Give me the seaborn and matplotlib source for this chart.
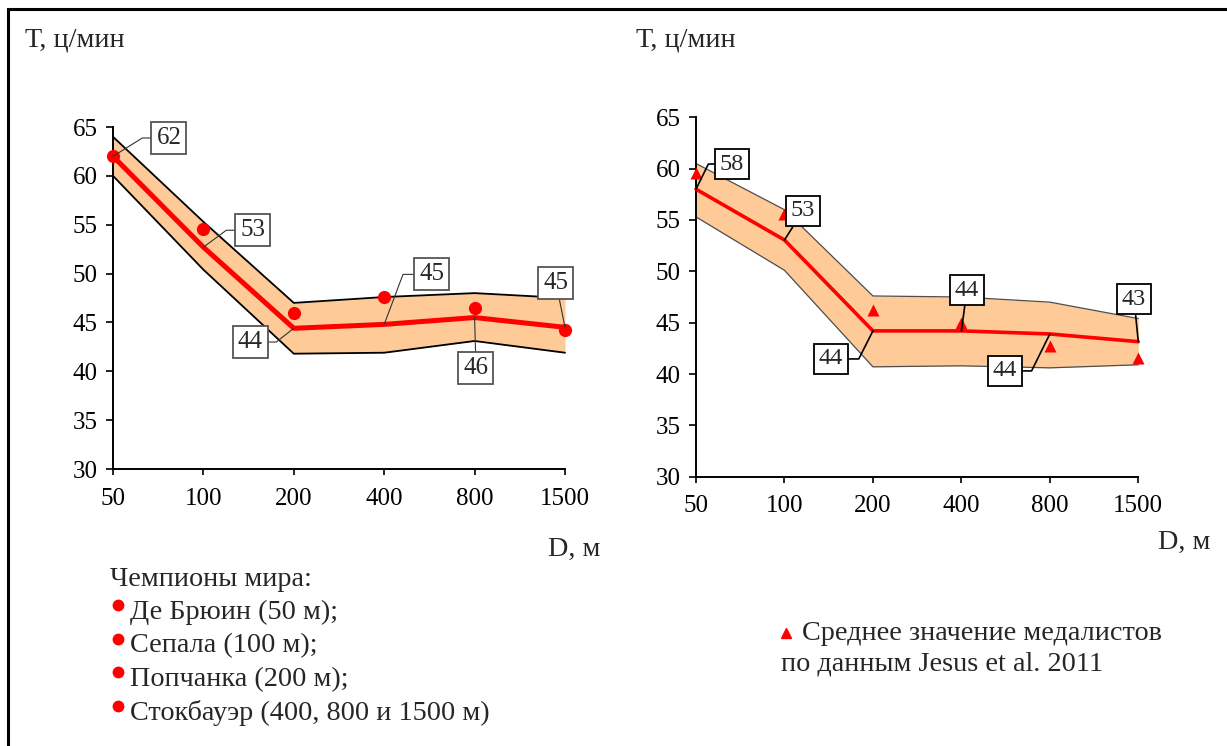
import numpy as np
import pandas as pd
import matplotlib
matplotlib.use("Agg")
import matplotlib.pyplot as plt
from matplotlib.lines import Line2D
import seaborn as sns

# ---------------- data ----------------
distances = ["50", "100", "200", "400", "800", "1500"]

left_upper = [64.0, 55.3, 47.0, 47.6, 48.0, 47.5]
left_lower = [60.0, 50.4, 41.8, 41.9, 43.1, 41.9]
left_mean = [62.0, 52.7, 44.4, 44.8, 45.5, 44.5]
left_champions = [62.0, 54.6, 46.0, 47.6, 46.5, 44.2]
left_labels = ["62", "53", "44", "45", "46", "45"]

right_upper = [60.5, 56.0, 47.6, 47.5, 47.0, 45.4]
right_lower = [55.3, 50.1, 40.7, 40.8, 40.6, 40.9]
right_mean = [58.0, 53.05, 44.2, 44.2, 43.9, 43.15]
right_medalists = [59.6, 55.6, 46.2, 45.0, 42.7, 41.6]
right_labels = ["58", "53", "44", "44", "44", "43"]

y_ticks = [30, 35, 40, 45, 50, 55, 60, 65]

legend_title = "Чемпионы мира:"
legend_items = ["Де Брюин (50 м);", "Сепала (100 м);", "Попчанка (200 м);",
                "Стокбауэр (400, 800 и 1500 м)"]
legend_right = ["Среднее значение медалистов", "по данным Jesus et al. 2011"]

# ---------------- style ----------------
sns.set_style("ticks")
plt.rcParams["font.family"] = ["Liberation Serif", "DejaVu Serif"]

W, H = 1227, 746
fig = plt.figure(figsize=(W / 100, H / 100), dpi=100)


def fx(px):
    return px / W


def fy(py):
    return 1 - py / H


band_color = "#FDCA98"
red = "#FF0000"
TXT = 20.3

# label offsets (points) and leader style
left_offsets = [(40.3, 13.2), (35.7, 12.2), (-31.5, -9.9), (34.4, 36.0), (1.0, -36.4), (-6.5, 32.2)]
left_conn = ["angle,angleA=0,angleB=32,rad=0", "angle,angleA=0,angleB=36.5,rad=0",
             "angle,angleA=0,angleB=38,rad=0", "angle,angleA=0,angleB=69.4,rad=0",
             "arc3,rad=0", "arc3,rad=0"]
right_offsets = [(25.9, 18.1), (13.3, 20.9), (-30.2, -20.2), (4.0, 29.4), (-32.3, -26.6), (-3.1, 30.7)]
right_conn = ["angle,angleA=0,angleB=63.8,rad=0", "arc3,rad=0",
              "angle,angleA=0,angleB=63.2,rad=0", "arc3,rad=0",
              "angle,angleA=0,angleB=63.7,rad=0", "arc3,rad=0"]


def setup_axes(ax):
    ax.set_xlim(0, len(distances) - 1)
    ax.set_ylim(30, 65)
    ax.set_xticks(range(len(distances)))
    ax.set_xticklabels(distances)
    ax.set_yticks(y_ticks)
    ax.set_xlabel("")
    ax.set_ylabel("")
    for s in ["top", "right"]:
        ax.spines[s].set_visible(False)
    for s in ["left", "bottom"]:
        ax.spines[s].set_linewidth(1.4)
        ax.spines[s].set_color("black")
    ax.tick_params(axis="both", colors="black", labelsize=18, width=1.2)
    ax.tick_params(axis="y", length=5, pad=6)
    ax.tick_params(axis="x", length=4, pad=9.5)
    ax.set_facecolor("white")


def draw_panel(ax, upper, lower, mean, points, labels, offsets, conns,
               marker, edge_color, edge_lw, mean_lw, box_edge, leader_color, leader_lw,
               label_size):
    x = np.arange(len(distances))
    ax.fill_between(x, lower, upper, color=band_color, lw=0, zorder=1)
    df = pd.DataFrame({"x": x, "upper": upper, "lower": lower, "mean": mean, "pts": points})
    sns.lineplot(data=df, x="x", y="upper", ax=ax, color=edge_color, lw=edge_lw, zorder=2)
    sns.lineplot(data=df, x="x", y="lower", ax=ax, color=edge_color, lw=edge_lw, zorder=2)
    sns.lineplot(data=df, x="x", y="mean", ax=ax, color=red, lw=mean_lw, zorder=3)
    sns.scatterplot(data=df, x="x", y="pts", ax=ax, color=red, marker=marker,
                    s=90 if marker == "o" else 75, linewidth=0, zorder=4)
    for coll in ax.collections:
        coll.set_clip_on(False)
    for line in ax.lines:
        line.set_clip_on(False)
    for i, (lab, off, cs) in enumerate(zip(labels, offsets, conns)):
        ax.annotate(lab, xy=(x[i], mean[i]), xytext=off, textcoords="offset points",
                    ha="center", va="center", fontsize=label_size, zorder=6,
                    bbox=dict(boxstyle="square,pad=0.2", fc="white", ec=box_edge, lw=1.3),
                    arrowprops=dict(arrowstyle="-", color=leader_color, lw=leader_lw,
                                    connectionstyle=cs, shrinkA=0, shrinkB=0),
                    annotation_clip=False)
    setup_axes(ax)


# left panel
axL = fig.add_axes([fx(113), fy(469), fx(565) - fx(113), fy(127) - fy(469)])
draw_panel(axL, left_upper, left_lower, left_mean, left_champions, left_labels,
           left_offsets, left_conn, "o", "black", 1.3, 3.6, "#555555", "#333333", 0.8, 18)

# right panel
axR = fig.add_axes([fx(696), fy(476.7), fx(1138.3) - fx(696), fy(117.3) - fy(476.7)])
draw_panel(axR, right_upper, right_lower, right_mean, right_medalists, right_labels,
           right_offsets, right_conn, "^", "#4d4d4d", 0.9, 2.6, "black", "black", 1.2, 17.5)

# axis titles
fig.text(fx(25), fy(40), "Т, ц/мин", fontsize=TXT, ha="left", va="center")
fig.text(fx(636), fy(40), "Т, ц/мин", fontsize=TXT, ha="left", va="center")
fig.text(fx(548), fy(549), "D, м", fontsize=TXT, ha="left", va="center")
fig.text(fx(1158), fy(542), "D, м", fontsize=TXT, ha="left", va="center")

# left legend
fig.text(fx(110), fy(579), legend_title, fontsize=TXT, ha="left", va="center")
for k, item in enumerate(legend_items):
    yy = 612 + k * 33.7
    fig.add_artist(Line2D([fx(118)], [fy(yy - 7)], marker="o", color=red, markersize=7.5,
                          lw=0, transform=fig.transFigure))
    fig.text(fx(130), fy(yy), item, fontsize=TXT, ha="left", va="center")

# right legend
fig.add_artist(Line2D([fx(786)], [fy(633)], marker="^", color=red, markersize=7.5,
                      lw=0, transform=fig.transFigure))
fig.text(fx(802), fy(633), legend_right[0], fontsize=TXT, ha="left", va="center")
fig.text(fx(781), fy(664), legend_right[1], fontsize=TXT, ha="left", va="center")

# frame (left and top)
fig.add_artist(Line2D([fx(8), fx(8), 1.0], [0.0, fy(9), fy(9)], color="black", lw=2.2,
                      transform=fig.transFigure, solid_joinstyle="miter"))

fig.savefig("out.png", dpi=100, facecolor="white")
